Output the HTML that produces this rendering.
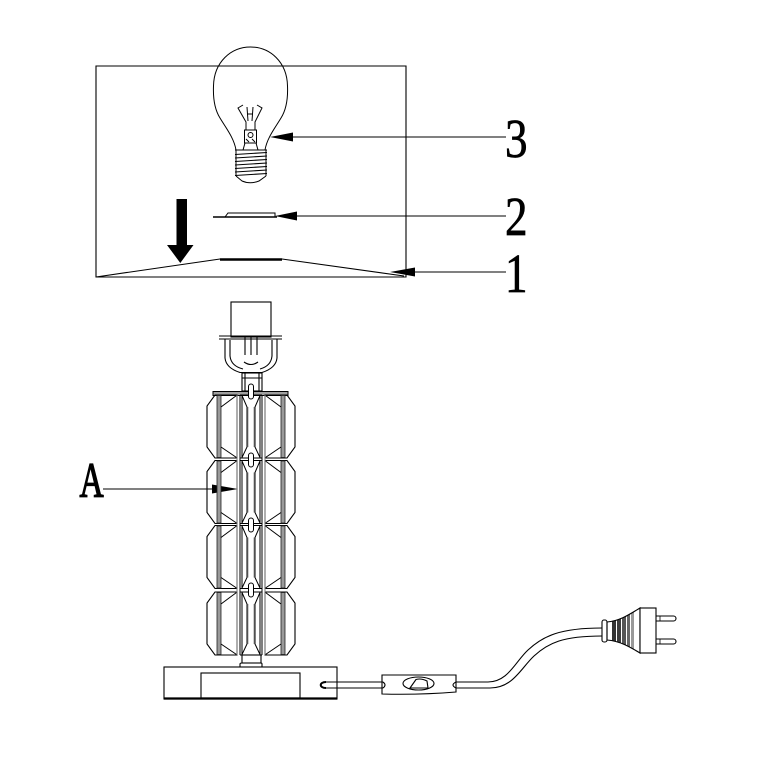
<!DOCTYPE html>
<html><head><meta charset="utf-8"><style>
html,body{margin:0;padding:0;background:#fff;}
svg{display:block;}
</style></head><body>
<svg width="764" height="764" viewBox="0 0 764 764" xmlns="http://www.w3.org/2000/svg">
<defs>
  <g id="lcry">
    <polygon points="215,0 237,0 237,63 215,63 207,52 207,11" fill="none" stroke="#000" stroke-width="1.1"/>
    <rect x="217" y="0.5" width="4" height="62" fill="#9a9a9a" stroke="#222" stroke-width="0.8"/>
    <path d="M221,12 L236.5,0.5 M221,52 L236.5,62.5" fill="none" stroke="#000" stroke-width="1"/>
  </g>
  <g id="row">
    <use href="#lcry"/>
    <use href="#lcry" transform="translate(502,0) scale(-1,1)"/>
    <path d="M240,0 L262,0 M240,63 L262,63 M242,0 L242,63 M260,0 L260,63" fill="none" stroke="#000" stroke-width="1"/>
    <path d="M242,0.5 L247,12 L247,52 L242,62.5 M260,0.5 L255,12 L255,52 L260,62.5" fill="none" stroke="#000" stroke-width="1"/>
    <path d="M248,12 L248,52 M254,12 L254,52" fill="none" stroke="#888" stroke-width="0.8"/>
  </g>
</defs>
<rect width="764" height="764" fill="#fff"/>

<!-- shade -->
<g fill="none" stroke="#000" stroke-width="1.1">
  <path d="M96,277 L96,66 L406,66 L406,277 Z"/>
  <path d="M96,277 L220,259 L282,259 L404,276"/>
</g>
<line x1="220" y1="259.5" x2="282" y2="259.5" stroke="#000" stroke-width="2.4"/>

<!-- big down arrow -->
<rect x="176.5" y="199" width="10.5" height="47" fill="#000"/>
<polygon points="167,245 193.5,245 180.3,263" fill="#000"/>

<!-- bulb -->
<g fill="none" stroke="#000" stroke-width="1">
  <path d="M236,150 C234,138 226,128 220,118 C215,110 213,98 213.5,86 C214,62 231,47 250.5,47 C270,47 287,62 287.5,86 C288,98 286,110 281,118 C275,128 267,138 265,150"/>
  <path d="M235,150 L267,150"/>
  <path d="M236,150 L236,176 M266,150 L266,176"/>
  <path d="M235,154.5 L267,152.5 M235,158 L267,156 M235,161.5 L267,159.5 M235,165 L267,163 M235,168.5 L267,166.5 M235,172 L267,170 M235,175.5 L267,173.5"/>
  <path d="M236,176 L242,181 Q250,184.5 259,181 L266,176"/>
  <!-- filament -->
  <path d="M243,105 L238,108 L246,122 L246,130 M257,105 L262,108 L255,122 L255,130"/>
  <path d="M247,107 L248,121 M253,107 L252,121 M248,114 L253,114"/>
  <rect x="244.5" y="130" width="12" height="13"/>
  <circle cx="250.5" cy="135" r="2.5"/>
  <path d="M246,139 L249,142 M252,139 L255,142"/>
  <path d="M245,143 L243,150 M256,143 L258,150"/>
</g>

<!-- item 2 -->
<g fill="none" stroke="#000">
  <path d="M213,217 L277,217" stroke-width="1.6"/>
  <path d="M225,217 L228,213 L275,213 L275,217" stroke-width="1"/>
</g>

<!-- leaders -->
<g stroke="#000" stroke-width="1.1" fill="none">
  <line x1="292" y1="137" x2="506" y2="137"/>
  <line x1="296" y1="216" x2="506" y2="216"/>
  <line x1="414" y1="272" x2="506" y2="272"/>
  <line x1="103" y1="489" x2="213" y2="489"/>
</g>
<g fill="#000">
  <polygon points="270,137 293,132.5 293,141.5"/>
  <polygon points="275,216 297,211.5 297,220.5"/>
  <polygon points="390,272 415,267.5 415,276.5"/>
  <polygon points="238,489 212,484.5 212,493.5"/>
</g>

<!-- labels -->
<g font-family="'Liberation Serif', 'DejaVu Serif', serif" fill="#000" stroke="#000">
  <text x="0" y="0" font-size="55" stroke-width="0.7" transform="translate(505,157) scale(0.82,1)">3</text>
  <text x="0" y="0" font-size="55" stroke-width="0.7" transform="translate(505,235) scale(0.82,1)">2</text>
  <text x="0" y="0" font-size="55" stroke-width="0.7" transform="translate(505,292) scale(0.82,1)">1</text>
  <text x="0" y="0" font-size="50" stroke-width="1.3" transform="translate(79.5,497) scale(0.67,1)">A</text>
</g>

<!-- lamp holder -->
<g fill="none" stroke="#000" stroke-width="1.1">
  <rect x="231" y="302" width="40" height="35"/>
  <path d="M219,336 L282,336 M219,339 L282,339"/>
  <path d="M225,339 L225,358 Q226,368 240,372.5 L262,372.5 Q276,368 277,358 L277,339"/>
  <path d="M230,340 L230,356 Q231,366 243,369 M272,340 L272,356 Q271,366 260,369"/>
  <path d="M245,337 L245,355 M257,337 L257,355 M251,337 L251,355"/>
  <path d="M244,362 Q251,367 258,362"/>
  <rect x="242" y="373" width="20" height="18"/>
  <path d="M245,373 L245,391 M259,373 L259,391 M242,378 L262,378"/>
</g>
<rect x="213" y="391.5" width="75" height="4" fill="#a0a0a0" stroke="#000" stroke-width="1"/>

<!-- crystal column -->
<use href="#row" transform="translate(0,395)"/>
<use href="#row" transform="translate(0,460.5)"/>
<use href="#row" transform="translate(0,525.5)"/>
<use href="#row" transform="translate(0,592)"/>
<g stroke="#000" stroke-width="1" fill="none">
  <line x1="240" y1="395" x2="240" y2="655"/>
  <line x1="262" y1="395" x2="262" y2="655"/>
  <line x1="237" y1="395" x2="237" y2="655" stroke="#777"/>
  <line x1="265" y1="395" x2="265" y2="655" stroke="#777"/>
</g>
<g fill="#fff" stroke="#000" stroke-width="1">
  <rect x="248.5" y="384" width="5" height="15" rx="2.5"/>
  <rect x="248.5" y="453" width="5" height="14" rx="2.5"/>
  <rect x="248.5" y="518" width="5" height="14" rx="2.5"/>
  <rect x="248.5" y="583" width="5" height="14" rx="2.5"/>
</g>

<!-- stem & base -->
<g fill="none" stroke="#000" stroke-width="1.1">
  <rect x="242" y="655" width="19" height="8"/>
  <path d="M240,667 L240,664 Q240,663 242,663 L261,663 Q262,663 262,664 L262,667"/>
  <rect x="164" y="667" width="173" height="32"/>
  <rect x="201" y="673" width="99" height="25"/>
</g>
<line x1="164" y1="698.5" x2="337" y2="698.5" stroke="#000" stroke-width="2.2"/>

<!-- cord from base to switch -->
<g fill="none" stroke="#000" stroke-width="1.1">
  <path d="M326,682 C319,682 319,688 326,688" stroke-width="2"/>
  <path d="M325,682 L383,682 M325,688 L383,688"/>
  <!-- switch -->
  <path d="M382,675 L456,675 L456,692 Q420,695 382,694 Z"/>
  <path d="M383,682 Q387,685 383,688"/>
  <path d="M456,682 Q450,685 456,688"/>
  <ellipse cx="418.5" cy="683.5" rx="15.5" ry="6.5"/>
  <path d="M410,688 L416,679.5 Q421,678 427,681 L428,688 Z"/>
  <!-- cord to plug -->
  <path d="M456,682 L488,682 C508,682 515,662 528,650 C543,636 560,628 602,628"/>
  <path d="M456,688 L490,688 C513,688 521,668 534,656 C548,643 563,636 602,636"/>
</g>

<!-- plug -->
<defs>
  <clipPath id="pc"><path d="M607,622 C620,621 630,614 640,608 L640,653 C630,647 620,641 607,640 Z"/></clipPath>
</defs>
<g clip-path="url(#pc)">
  <rect x="612" y="600" width="4" height="60" fill="#333"/>
  <rect x="617" y="600" width="4" height="60" fill="#3c3c3c"/>
  <rect x="622" y="600" width="4" height="60" fill="#555"/>
  <rect x="627" y="600" width="3" height="60" fill="#666"/>
  <rect x="631" y="600" width="3" height="60" fill="#999"/>
</g>
<g fill="none" stroke="#000" stroke-width="1.1">
  <rect x="602" y="620" width="5" height="22" rx="2" fill="#fff"/>
  <path d="M607,622 C620,621 630,614 640,608 L640,653 C630,647 620,641 607,640 Z"/>
  <rect x="640" y="608" width="16" height="45" fill="#fff"/>
  <path d="M656,616 L673.5,616 A2.5,2.5 0 0 1 673.5,621 L656,621"/>
  <path d="M656,639 L673.5,639 A2.5,2.5 0 0 1 673.5,644 L656,644"/>
  <path d="M660,616 L660,621 M660,639 L660,644" stroke-width="0.8"/>
</g>
</svg>
</body></html>
